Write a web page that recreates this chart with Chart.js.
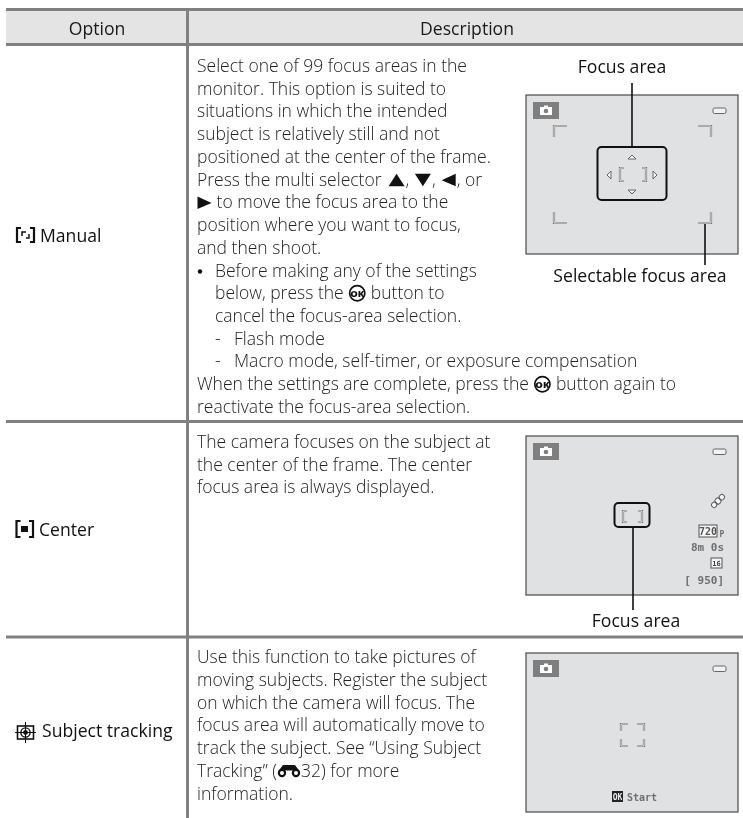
<!DOCTYPE html>
<html><head><meta charset="utf-8">
<style>html,body{margin:0;padding:0;background:#fff}canvas{display:block}</style>
<script src="https://cdn.jsdelivr.net/npm/chart.js@4/dist/chart.umd.min.js"></script>
</head><body><canvas id="c" width="743" height="818"></canvas>
<script>
const columnHeaders = ["Option", "Description"];
const optionNames = ["Manual", "Center", "Subject tracking"];
const figureLabels = ["Focus area", "Selectable focus area", "Focus area"];
const manualLines = [
 "Select one of 99 focus areas in the",
 "monitor. This option is suited to",
 "situations in which the intended",
 "subject is relatively still and not",
 "positioned at the center of the frame.",
 "Press the multi selector {U}, {D}, {L}, or",
 "{R} to move the focus area to the",
 "position where you want to focus,",
 "and then shoot.",
 "{B}Before making any of the settings",
 "{I}below, press the {K} button to",
 "{I}cancel the focus-area selection.",
 "{S}Flash mode",
 "{S}Macro mode, self-timer, or exposure compensation",
 "When the settings are complete, press the {K} button again to",
 "reactivate the focus-area selection."];
const centerLines = [
 "The camera focuses on the subject at",
 "the center of the frame. The center",
 "focus area is always displayed."];
const trackingLines = [
 "Use this function to take pictures of",
 "moving subjects. Register the subject",
 "on which the camera will focus. The",
 "focus area will automatically move to",
 "track the subject. See \u201CUsing Subject",
 "Tracking\u201D ({G}32) for more",
 "information."];

const BODY = '300 17.5px "Open Sans"', HEAD = '400 17.6px "Open Sans"';
const RULE = '#808080';
const rule = (a,b,c,d,w)=>({type:'line',data:[{x:a,y:b},{x:c,y:d}],borderColor:RULE,borderWidth:w,pointRadius:0,parsing:false});

const tablePlugin = { id:'table',
 beforeDatasetsDraw(chart){
  const c=chart.ctx, X=v=>chart.scales.x.getPixelForValue(v), Y=v=>chart.scales.y.getPixelForValue(v);
  c.save(); c.fillStyle='#e4e4e5'; c.fillRect(X(6),Y(10),X(743)-X(6),Y(44)-Y(10)); c.restore();
 },
 afterDatasetsDraw(chart){
  const c=chart.ctx, X=v=>chart.scales.x.getPixelForValue(v), Y=v=>chart.scales.y.getPixelForValue(v);
  c.save(); c.textBaseline='alphabetic';
  const text=(s,x,y,font,col,al)=>{c.font=font;c.fillStyle=col;c.textAlign=al||'left';c.fillText(s,X(x),Y(y));};
  const ln=(pts,w,col)=>{c.beginPath();pts.forEach((p,i)=>i?c.lineTo(X(p[0]),Y(p[1])):c.moveTo(X(p[0]),Y(p[1])));c.lineWidth=w;c.strokeStyle=col;c.stroke();};
  // headers
  text(columnHeaders[0],97,35,HEAD,'#1a1a1a','center');
  text(columnHeaders[1],467,35,HEAD,'#1a1a1a','center');
  // option names
  text(optionNames[0],40,242,HEAD,'#111');
  text(optionNames[1],39,536,HEAD,'#111');
  text(optionNames[2],42,737,HEAD,'#111');
  // option icons
  const br=(x,y,h,d)=>ln([[x+d*4,y],[x,y],[x,y+h],[x+d*4,y+h]],2.2,'#111');
  br(17,228,14,1);br(34,228,14,-1);
  ln([[22,236],[22,232],[26,232]],1.5,'#111');ln([[26,238],[29,238],[29,234]],1.5,'#111');
  br(16.5,521,16,1);br(33,521,16,-1);c.fillStyle='#111';c.fillRect(X(21),Y(526),7,6);
  c.lineWidth=1.6;c.strokeStyle='#111';c.strokeRect(X(17.5),Y(726),16,13);
  ln([[25.5,722],[25.5,743]],1,'#111');ln([[15,732.5],[36,732.5]],1,'#111');
  c.beginPath();c.arc(X(25.5),Y(732.5),4.6,0,7);c.lineWidth=1.4;c.stroke();
  c.beginPath();c.arc(X(25.5),Y(732.5),2.4,0,7);c.fillStyle='#111';c.fill();
  // rich text lines
  const col='#222';
  const rich=(s,x,y)=>{
    c.font=BODY;c.textAlign='left';c.fillStyle=col;let cx=x;
    s.split(/(\{[A-Z]\})/).forEach(tok=>{
      const m=tok.match(/^\{([A-Z])\}$/);
      if(!m){ if(tok){c.font=BODY;c.fillStyle=col;c.fillText(tok,X(cx),Y(y));cx+=c.measureText(tok).width;} return;}
      const k=m[1];
      if('UDLR'.includes(k)){
        c.beginPath();c.fillStyle='#111';
        const b=y+.5,t=y-12;
        if(k==='U'){c.moveTo(X(cx+2.5),Y(b));c.lineTo(X(cx+18.5),Y(b));c.lineTo(X(cx+10.5),Y(t));cx+=19.5;}
        if(k==='D'){c.moveTo(X(cx+1),Y(t));c.lineTo(X(cx+17),Y(t));c.lineTo(X(cx+9),Y(b));cx+=18;}
        if(k==='L'){c.moveTo(X(cx+15.5),Y(t));c.lineTo(X(cx+15.5),Y(b));c.lineTo(X(cx+1.5),Y(b-6));cx+=16.5;}
        if(k==='R'){c.moveTo(X(cx+.5),Y(t));c.lineTo(X(cx+.5),Y(b));c.lineTo(X(cx+14.5),Y(b-6));cx+=15;}
        c.closePath();c.fill();
      } else if(k==='B'){
        c.beginPath();c.fillStyle='#111';c.arc(X(cx+3),Y(y-5),2.2,0,7);c.fill();cx+=18;
      } else if(k==='I'){cx+=18;
      } else if(k==='S'){
        c.font=BODY;c.fillStyle=col;c.fillText('-',X(cx+18),Y(y));cx+=37;
      } else if(k==='K'){
        c.beginPath();c.arc(X(cx+9),Y(y-6),7.6,0,7);c.fillStyle='#fff';c.fill();c.lineWidth=1.7;c.strokeStyle='#111';c.stroke();
        c.font='800 9.5px "Open Sans"';c.fillStyle='#111';c.textAlign='center';c.fillText('OK',X(cx+9),Y(y-2.6));c.textAlign='left';cx+=18;
      } else if(k==='G'){
        c.fillStyle='#111';
        c.beginPath();c.arc(X(cx+5),Y(y-4),4.2,0,7);c.arc(X(cx+19),Y(y-4),4.2,0,7);c.fill();
        c.beginPath();c.moveTo(X(cx+1.5),Y(y-6));c.lineTo(X(cx+6),Y(y-12));c.lineTo(X(cx+18),Y(y-12));c.lineTo(X(cx+22.5),Y(y-6));
        c.lineTo(X(cx+15),Y(y-6.5));c.lineTo(X(cx+9),Y(y-6.5));c.closePath();c.fill();
        c.beginPath();c.arc(X(cx+5),Y(y-4),2,0,7);c.arc(X(cx+19),Y(y-4),2,0,7);c.fillStyle='#fff';c.fill();
        cx+=24;
      }
    });
  };
  const para=(lines,y0,step)=>lines.forEach((s,i)=>rich(s,197,y0+i*step));
  para(manualLines,72,22.73);para(centerLines,448,22.73);para(trackingLines,663,22.8);

  // monitor screens
  const screen=(y)=>{
    c.fillStyle='#e0e1e3';c.fillRect(X(526),Y(y),212,159);
    c.lineWidth=1.2;c.strokeStyle='#4a4a4a';c.strokeRect(X(526),Y(y),212,159);
    c.fillStyle='#7f7f7f';c.fillRect(X(533),Y(y+7),26,17);
    c.fillStyle='#fff';c.fillRect(X(540),Y(y+12),12,8);c.fillRect(X(544),Y(y+10.5),4,2);
    c.beginPath();c.arc(X(546),Y(y+16),2.3,0,7);c.fillStyle='#7f7f7f';c.fill();
    c.beginPath();c.roundRect(X(713),Y(y+13),13,5.5,1.5);c.fillStyle='#f2f2f2';c.fill();
    c.lineWidth=1;c.strokeStyle='#666';c.stroke();
  };
  screen(95);screen(436);screen(653);
  const corner=(pts)=>{ln(pts,2.2,'#6e6e6e');ln(pts,.9,'#f5f5f5');};
  const corners=(x1,x2,y1,y2,w,h)=>{
    corner([[x1+w,y1],[x1,y1],[x1,y1+h]]);corner([[x2-w,y1],[x2,y1],[x2,y1+h]]);
    corner([[x1+w,y2],[x1,y2],[x1,y2-h]]);corner([[x2-w,y2],[x2,y2],[x2,y2-h]]);
  };
  corners(554,711,126,223,13,11);
  corners(621,644,724,746,7,7);
  // callout box helpers
  const round=(x,y,w,h)=>{c.beginPath();c.roundRect(X(x),Y(y),w,h,4);c.lineWidth=2;c.strokeStyle='#111';c.stroke();};
  const tri=(a)=>{c.beginPath();a.forEach((p,i)=>i?c.lineTo(X(p[0]),Y(p[1])):c.moveTo(X(p[0]),Y(p[1])));c.closePath();c.fillStyle='#f5f5f5';c.fill();c.lineWidth=1;c.strokeStyle='#666';c.stroke();};
  const bracket=(x,y,h,d)=>{const p=[[x+d*4,y],[x,y],[x,y+h],[x+d*4,y+h]];ln(p,2.2,'#6e6e6e');ln(p,.9,'#f5f5f5');};
  // figure 1
  round(597.5,147,69,53);
  tri([[628,159],[636,159],[632,155]]);tri([[628,190],[636,190],[632,194]]);
  tri([[611,171],[611,179],[607,175]]);tri([[653,171],[653,179],[657,175]]);
  bracket(620,168,13,1);bracket(646,168,13,-1);
  ln([[632,83],[632,147]],1.6,'#111');ln([[705,224],[705,265]],1.6,'#111');
  text(figureLabels[0],622,73,HEAD,'#111','center');
  text(figureLabels[1],640,282,HEAD,'#111','center');
  // figure 2
  round(614.5,503,35,24);
  bracket(623,511,11,1);bracket(642,511,11,-1);
  ln([[633,527],[633,610]],1.6,'#111');
  text(figureLabels[2],636,627,HEAD,'#111','center');
  const mono='700 11px "DejaVu Sans Mono"', grey='#6f6f6f';
  text('8m 0s',724,551,mono,grey,'right');
  text('[ 950]',724,584,mono,grey,'right');
  c.fillStyle='#f5f5f5';c.fillRect(X(699),Y(525),18,12);c.lineWidth=1;c.strokeStyle='#555';c.strokeRect(X(699),Y(525),18,12);
  text('720',708,535,'700 10px "DejaVu Sans Mono"','#555','center');
  text('P',722,537,'700 8px "DejaVu Sans Mono"',grey,'center');
  c.fillStyle='#f5f5f5';c.fillRect(X(711),Y(558),11,10);c.strokeRect(X(711),Y(558),11,10);
  text('16',716.5,566,'700 7px "DejaVu Sans Mono"','#444','center');
  // tilted remote symbol
  c.save();c.translate(X(718),Y(501));c.rotate(-Math.PI/4);c.lineWidth=1;c.strokeStyle='#555';c.fillStyle='#f5f5f5';
  c.beginPath();c.roundRect(-8,-2.5,5,5,2);c.roundRect(-2.5,-3,5,6,2);c.roundRect(3,-2.5,5,5,2);c.fill();c.stroke();c.restore();
  // figure 3
  c.fillStyle='#222';c.fillRect(X(612),Y(791),11,11);
  text('OK',617.5,800,'700 8px "DejaVu Sans Mono"','#eee','center');
  text('Start',627,800.5,'700 10px "DejaVu Sans Mono"',grey);
  c.restore();
 }
};

new Chart(document.getElementById('c'),{
 type:'line',
 data:{datasets:[
  rule(6,9.5,743,9.5,3),rule(6,44.5,743,44.5,3),
  rule(6,421.5,743,421.5,3),rule(6,637,743,637,3),
  rule(187.5,9,187.5,818,3)
 ]},
 options:{responsive:false,animation:false,events:[],layout:{padding:0},
  plugins:{legend:{display:false},title:{display:false},tooltip:{enabled:false}},
  scales:{x:{type:'linear',display:false,min:0,max:743},y:{type:'linear',display:false,min:0,max:818,reverse:true}},
  elements:{line:{borderCapStyle:'butt'}}},
 plugins:[tablePlugin]
});
</script></body></html>
